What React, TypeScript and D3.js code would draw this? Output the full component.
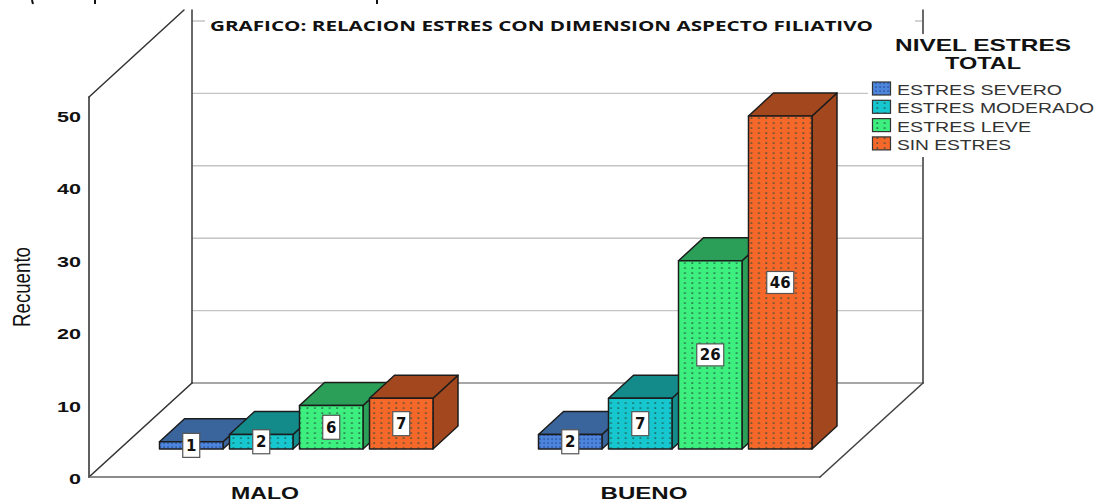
import React from "react";
import * as d3 from "d3";

const categories = ["MALO", "BUENO"];
const seriesNames = ["ESTRES SEVERO", "ESTRES MODERADO", "ESTRES LEVE", "SIN ESTRES"];
const severo = [1, 2];
const moderado = [2, 7];
const leve = [6, 26];
const sinEstres = [7, 46];
const seriesValues = [severo, moderado, leve, sinEstres];
const yTicks = [0, 10, 20, 30, 40, 50];
const frontColors = ["#4d84dc", "#17c7d0", "#3def7e", "#f6682a"];
const darkColors = ["#3a659c", "#138b8a", "#2b9e57", "#a2471e"];
const titleText = "GRAFICO: RELACION ESTRES CON DIMENSION ASPECTO FILIATIVO";

const W = 1099, H = 502;
const dx = 25, dy = 23;
const floorLeft = 89, floorRight = 820, floorBottom = 477;
const wallDx = 103, wallDy = 94;
const barOffset = 28;

export default function App() {
  const y = d3.scaleLinear().domain([0, 50]).range([floorBottom, floorBottom - 362]);
  const barW = 63.5;
  const groupStart = (c: string) => (c === "MALO" ? 159.5 : 538.5);
  const step = 70;
  const xOf = (c: string, si: number) => groupStart(c) + si * step;

  const sans = "'Liberation Sans', Arial, sans-serif";
  const labels = categories.flatMap((c, ci) =>
    seriesNames.map((_, si) => {
      const v = seriesValues[si][ci];
      const x0 = xOf(c, si);
      const base = y(0) - barOffset;
      const top = y(v) - barOffset;
      return { key: c + si, v, cx: x0 + barW / 2, cy: (base + top) / 2 };
    })
  );

  return (
    <svg width={W} height={H} viewBox={`0 0 ${W} ${H}`}
      style={{ position: "absolute", left: 0, top: 0, background: "#fff" }}>
      <defs>
        {frontColors.map((col, i) => (
          <pattern key={i} id={`dots${i}`} patternUnits="userSpaceOnUse"
            width={i === 0 ? 4 : 7.4} height={i === 0 ? 4 : 5} x={2} y={1}>
            <rect width={8} height={5} fill={col} />
            <rect x={1.2} y={1.2} width={1.8} height={1.8}
              fill={i === 0 ? "#2a4f96" : "#1f4a3a"} opacity={0.65} />
          </pattern>
        ))}
      </defs>

      {/* cropped remains of the line of text above the figure */}
      <g stroke="#111" strokeWidth={2}>
        <line x1={32} x2={33} y1={0} y2={4} />
        <line x1={95} x2={95} y1={0} y2={4} />
        <line x1={377} x2={377} y1={0} y2={4} />
      </g>

      {/* grid on back wall */}
      {yTicks.map((t) => (
        <line key={t} x1={floorLeft + wallDx} x2={floorRight + wallDx - 1}
          y1={y(t) - wallDy} y2={y(t) - wallDy} stroke="#c4c4c4" strokeWidth={1.4} />
      ))}

      {/* walls and floor */}
      <g fill="none" strokeLinecap="round">
        <line x1={floorLeft + wallDx} x2={floorRight + wallDx} y1={y(0) - wallDy} y2={y(0) - wallDy} stroke="#999" strokeWidth={1.5} />
        <line x1={floorLeft + wallDx} x2={floorLeft + wallDx} y1={10} y2={y(0) - wallDy} stroke="#444" strokeWidth={1.6} />
        <line x1={floorRight + wallDx} x2={floorRight + wallDx} y1={10} y2={y(0) - wallDy} stroke="#444" strokeWidth={1.6} />
        <line x1={floorLeft} x2={floorLeft} y1={97} y2={floorBottom} stroke="#444" strokeWidth={1.7} />
        <line x1={floorLeft} x2={184} y1={97} y2={10} stroke="#333" strokeWidth={1.5} />
        <line x1={floorLeft} x2={floorLeft + wallDx} y1={floorBottom} y2={floorBottom - wallDy} stroke="#333" strokeWidth={1.6} />
        <line x1={floorLeft} x2={floorRight} y1={floorBottom} y2={floorBottom} stroke="#666" strokeWidth={1.6} />
        <line x1={floorRight} x2={floorRight + wallDx} y1={floorBottom} y2={floorBottom - wallDy} stroke="#444" strokeWidth={1.6} />
      </g>

      {/* title and legend backgrounds */}
      <rect x={205} y={10} width={710} height={26} fill="#fff" />
      <rect x={868} y={34} width={231} height={123} fill="#fff" />

      {/* bars */}
      {categories.map((c, ci) =>
        seriesNames.map((s, si) => {
          const v = seriesValues[si][ci];
          const x0 = xOf(c, si);
          const x1 = x0 + barW;
          const base = y(0) - barOffset;
          const top = y(v) - barOffset;
          const dark = darkColors[si];
          return (
            <g key={c + s} stroke="#1c1c1c" strokeWidth={1.5} strokeLinejoin="round">
              <polygon points={`${x1},${top} ${x1 + dx},${top - dy} ${x1 + dx},${base - dy} ${x1},${base}`} fill={dark} />
              <polygon points={`${x0},${top} ${x0 + dx},${top - dy} ${x1 + dx},${top - dy} ${x1},${top}`} fill={dark} />
              <rect x={x0} y={top} width={barW} height={base - top} fill={`url(#dots${si})`} />
            </g>
          );
        })
      )}

      {/* value labels */}
      {labels.map((l) => {
        const w = l.v >= 10 ? 27 : 17;
        const h = l.v >= 10 ? 22 : 24;
        return (
          <g key={l.key}>
            <rect x={l.cx - w / 2} y={l.cy - h / 2} width={w} height={h} fill="#fff" stroke="#555" strokeWidth={1.2} />
            <text x={l.cx} y={l.cy + 5.5} textAnchor="middle" fontFamily="'DejaVu Sans', sans-serif"
              fontWeight="bold" fontSize={15} fill="#111">{l.v}</text>
          </g>
        );
      })}

      {/* y axis */}
      {yTicks.map((t) => (
        <text key={t} x={81} y={y(t) + 7} textAnchor="end" fontFamily={sans} fontWeight="bold"
          fontSize={15.5} textLength={24 * String(t).length / 2} lengthAdjust="spacingAndGlyphs" fill="#111">{t}</text>
      ))}
      <text transform="translate(30,287) rotate(-90)" textAnchor="middle" fontFamily={sans}
        fontSize={23} textLength={80} lengthAdjust="spacingAndGlyphs" fill="#111">Recuento</text>

      {/* x axis */}
      {categories.map((c) => (
        <text key={c} x={c === "MALO" ? 265 : 644} y={498.5} textAnchor="middle" fontFamily={sans}
          fontWeight="bold" fontSize={16.5} textLength={c === "MALO" ? 68 : 87} lengthAdjust="spacingAndGlyphs" fill="#111">{c}</text>
      ))}

      {/* title */}
      <text x={210} y={31} fontFamily="'Open Sans', sans-serif" fontWeight="bold" fontSize={15}
        textLength={663} lengthAdjust="spacingAndGlyphs" fill="#111">{titleText}</text>

      {/* legend */}
      <text x={983} y={50.5} textAnchor="middle" fontFamily={sans} fontWeight="bold" fontSize={17}
        textLength={176} lengthAdjust="spacingAndGlyphs" fill="#111">NIVEL ESTRES</text>
      <text x={983} y={68.5} textAnchor="middle" fontFamily={sans} fontWeight="bold" fontSize={17}
        textLength={76} lengthAdjust="spacingAndGlyphs" fill="#111">TOTAL</text>
      {seriesNames.map((s, i) => (
        <g key={s}>
          <rect x={872.5} y={82 + i * 18.3} width={18} height={13} fill={`url(#dots${i})`} stroke="#333" strokeWidth={1.2} />
          <text x={897} y={95 + i * 18.3} fontFamily={sans} fontSize={15}
            textLength={[165, 197, 134, 114][i]} lengthAdjust="spacingAndGlyphs" fill="#333">{s}</text>
        </g>
      ))}
    </svg>
  );
}
